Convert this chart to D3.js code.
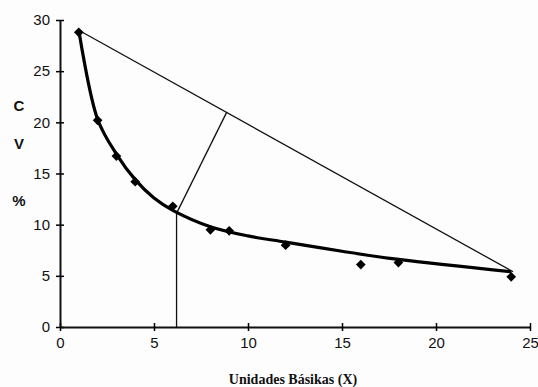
<!DOCTYPE html>
<html>
<head>
<meta charset="utf-8">
<script src="https://cdn.jsdelivr.net/npm/d3@7"></script>
<style>
  body { margin: 0; background: #fdfdfd; }
  svg { display: block; }
</style>
</head>
<body>
<div id="chart"></div>
<script>
// observed points
const unidades = [1, 2, 3, 4, 6, 8, 9, 12, 16, 18, 24];
const cvValues = [28.8, 20.2, 16.7, 14.2, 11.8, 9.5, 9.4, 8.0, 6.1, 6.3, 4.9];

// fitted curve
const trendX = [1, 2, 3, 4, 5, 6, 8, 10, 12, 15, 18, 24];
const trendY = [29.0, 20.3, 16.9, 14.4, 12.6, 11.4, 9.8, 8.9, 8.3, 7.4, 6.6, 5.4];

// chord between the curve ends, perpendicular and the drop line
const chordX = [1, 24.1];
const chordY = [29.0, 5.4];
const perpX = [8.87, 6.25];
const perpY = [21.0, 11.3];
const dropX = [6.2, 6.2];
const dropY = [11.3, 0];

const xTicks = [0, 5, 10, 15, 20, 25];
const yTicks = [0, 5, 10, 15, 20, 25, 30];
const xTitle = 'Unidades Básikas (X)';
const yTitle = ['C', 'V', '%'];

function drawChart() {
  const width = 538, height = 387;

  const svg = d3.select('#chart').append('svg')
    .attr('width', width)
    .attr('height', height);

  const x = d3.scaleLinear().domain([0, 25]).range([60, 530]);
  const y = d3.scaleLinear().domain([0, 30]).range([327, 20]);

  const line = d3.line().x(d => x(d[0])).y(d => y(d[1]));

  // y axis
  const yAxis = svg.append('g')
    .attr('transform', `translate(${x(0)},0)`)
    .call(d3.axisLeft(y).tickValues(yTicks).tickSizeInner(4).tickSizeOuter(0).tickPadding(6));
  yAxis.selectAll('.tick line').attr('x2', -4).attr('x1', 4).attr('stroke-width', 1.5);

  // x axis
  const xAxis = svg.append('g')
    .attr('transform', `translate(0,${y(0)})`)
    .call(d3.axisBottom(x).tickValues(xTicks).tickSizeInner(4).tickSizeOuter(0).tickPadding(6));
  xAxis.selectAll('.tick line').attr('y1', -4).attr('y2', 4).attr('stroke-width', 1.5);

  svg.selectAll('.domain').attr('stroke', '#111').attr('stroke-width', 2);
  svg.selectAll('.tick text')
    .attr('font-family', 'Liberation Sans, Arial, sans-serif')
    .attr('font-size', 15)
    .attr('fill', '#111');

  // chord, perpendicular, drop line
  const thin = [
    d3.zip(chordX, chordY),
    d3.zip(perpX, perpY),
    d3.zip(dropX, dropY)
  ];
  svg.selectAll('path.thin')
    .data(thin)
    .enter()
    .append('path')
    .attr('class', 'thin')
    .attr('d', line)
    .attr('fill', 'none')
    .attr('stroke', '#111')
    .attr('stroke-width', 1.3);

  // fitted curve
  svg.append('path')
    .datum(d3.zip(trendX, trendY))
    .attr('d', line.curve(d3.curveCatmullRom.alpha(0.5)))
    .attr('fill', 'none')
    .attr('stroke', '#000')
    .attr('stroke-width', 3.2);

  // diamonds
  svg.selectAll('path.pt')
    .data(d3.zip(unidades, cvValues))
    .enter()
    .append('path')
    .attr('class', 'pt')
    .attr('d', d3.symbol(d3.symbolDiamond2, 60))
    .attr('transform', d => `translate(${x(d[0])},${y(d[1])})`)
    .attr('fill', '#000');

  // titles
  svg.append('text')
    .attr('x', 293)
    .attr('y', 384)
    .attr('text-anchor', 'middle')
    .attr('font-family', 'Liberation Serif, Times New Roman, serif')
    .attr('font-weight', 'bold')
    .attr('font-size', 14)
    .attr('fill', '#111')
    .text(xTitle);

  svg.selectAll('text.ytitle')
    .data(yTitle)
    .enter()
    .append('text')
    .attr('class', 'ytitle')
    .attr('x', 19)
    .attr('y', (d, i) => [111, 149, 206][i])
    .attr('text-anchor', 'middle')
    .attr('font-family', 'Liberation Sans, Arial, sans-serif')
    .attr('font-weight', 'bold')
    .attr('font-size', 15)
    .attr('fill', '#111')
    .text(d => d);
}

window.onload = function () {
  drawChart();
};
</script>
</body>
</html>
